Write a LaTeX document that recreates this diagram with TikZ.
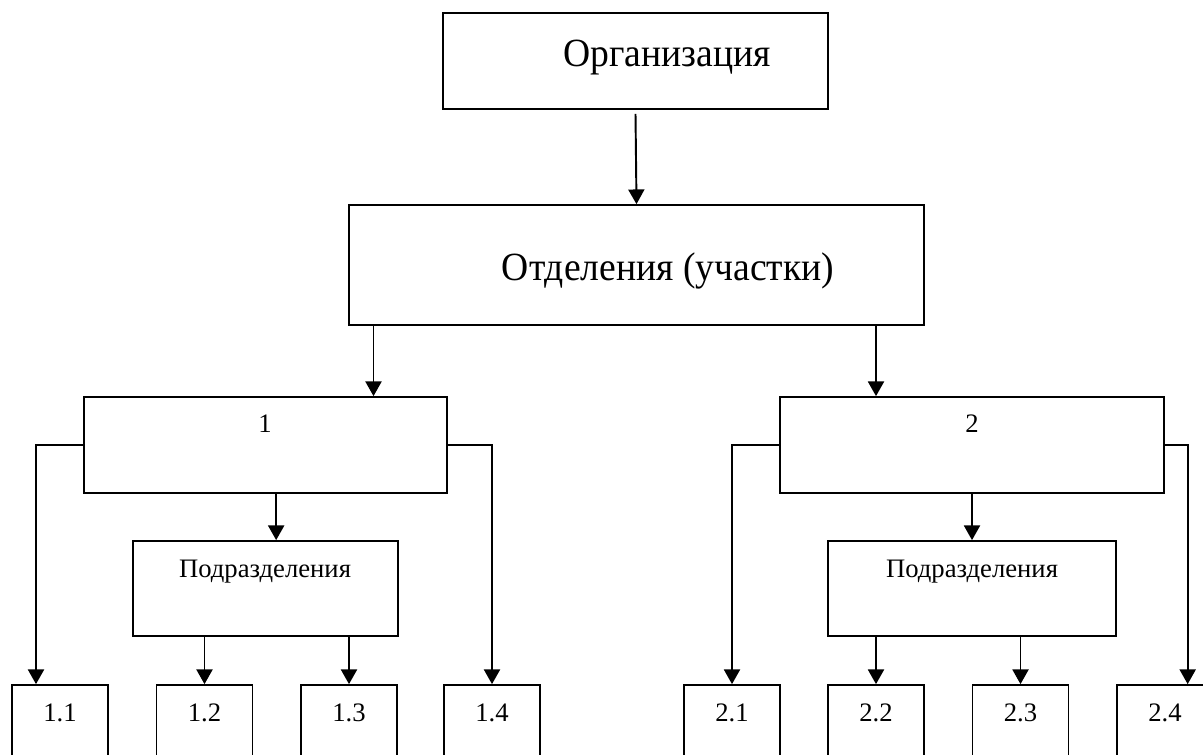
\documentclass[tikz,border=0pt]{standalone}
\usepackage{fontspec}
\setmainfont{Liberation Serif}
\usepackage{tikz}
\usetikzlibrary{arrows.meta,positioning}

\tikzset{
  box/.style={draw, line width=1.3pt, inner sep=0pt},
  big/.style={font=\fontsize{30}{36}\selectfont, inner sep=0pt, anchor=base, xscale=0.94},
  small/.style={font=\fontsize{20}{24}\selectfont, inner sep=0pt, anchor=base},
  arr/.style={line width=1.45pt, -{Triangle[length=11pt,width=12pt]}}
}

\begin{document}
\begin{tikzpicture}[x=0.75pt,y=-0.75pt]
  \clip (0,0) rectangle (1203,755);
  % top levels
  \node[box, minimum width=385*0.75pt, minimum height=96*0.75pt] (org) at (635.5,61) {};
  \node[big] (orgt) at (667,67) {Организация};
  \node[box, minimum width=575*0.75pt, minimum height=120*0.75pt] (otd) at (636.5,265) {};
  \node[big] (otdt) at (668,281) {Отделения (участки)};
  % departments
  \node[box, minimum width=363*0.75pt, minimum height=96*0.75pt] (b1) at (265.5,445) {};
  \node[small] (b1t) at (265,433) {1};
  \node[box, minimum width=384*0.75pt, minimum height=96*0.75pt] (b2) at (972,445) {};
  \node[small] (b2t) at (972,433) {2};
  \node[box, minimum width=265*0.75pt, minimum height=95*0.75pt] (p1) at (265.5,588.5) {};
  \node[small] (p1t) at (265,577) {Подразделения};
  \node[box, minimum width=288*0.75pt, minimum height=95*0.75pt] (p2) at (972,588.5) {};
  \node[small] (p2t) at (972,577) {Подразделения};
  % bottom row
  \foreach \n/\x in {11/60,12/204.5,13/349,14/492,21/732,22/876,23/1020.5,24/1165}{
    \node[box, minimum width=96*0.75pt, minimum height=96*0.75pt] (s\n) at (\x,733) {};
  }
  \foreach \n/\x/\t in {11/60/1.1,12/204.5/1.2,13/349/1.3,14/492/1.4,21/732/2.1,22/876/2.2,23/1020.5/2.3,24/1165/2.4}{
    \node[small] (s\n t) at (\x,721) {\t};
  }

  \draw[arr] ([yshift=-3pt]org.south) -- (otd.north);
  \draw[arr] ([xshift=81pt]b1.north |- otd.south) -- ([xshift=81pt]b1.north);
  \draw[arr] (s22.north |- otd.south) -- (s22.north |- b2.north);
  \draw[arr] ([xshift=8pt]b1.south) -- ([xshift=8pt]p1.north -| b1.south);
  \draw[arr] (b2.south) -- (p2.north);
  \draw[arr] (s12.north |- p1.south) -- (s12.north);
  \draw[arr] (s13.north |- p1.south) -- (s13.north);
  \draw[arr] (s22.north |- p2.south) -- (s22.north);
  \draw[arr] (s23.north |- p2.south) -- (s23.north);
  \draw[arr] (b1.west) -| ([xshift=-18pt]s11.north);
  \draw[arr] (b1.east) -| (s14.north);
  \draw[arr] (b2.west) -| (s21.north);
  \draw[arr] (b2.east) -| ([xshift=17pt]s24.north);
\end{tikzpicture}
\end{document}
